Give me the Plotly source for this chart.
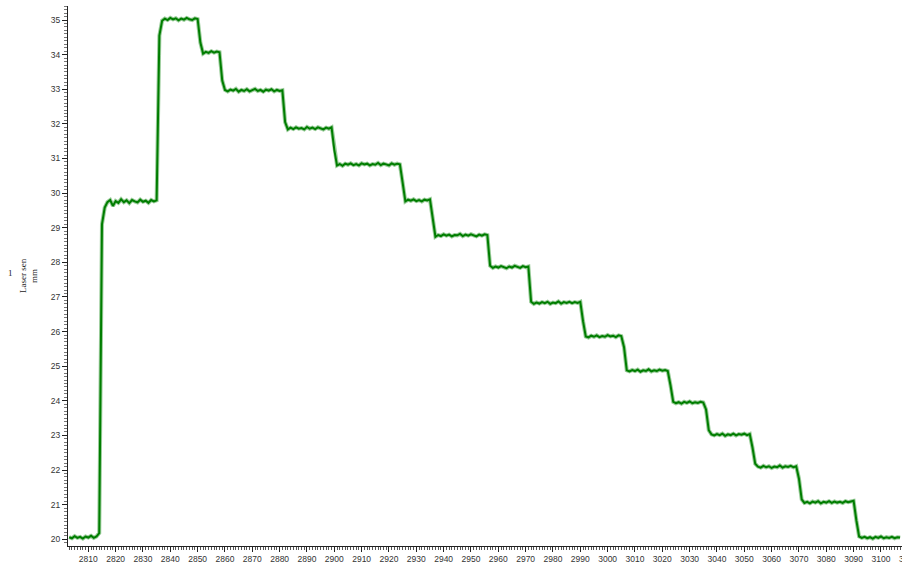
import plotly.graph_objects as go

# Laser sensor reading (mm), one sample per second from t = 2803 s
t_first = 2803
laser_mm = [
    # baseline
    20.06, 20.03, 20.09, 20.04, 20.07, 20.02, 20.08, 20.05, 20.10, 20.04, 20.08, 20.18,
    29.10,
    29.58, 29.74, 29.80, 29.63, 29.77, 29.72, 29.82, 29.74, 29.79, 29.71,
    29.80, 29.76, 29.73, 29.81, 29.75, 29.78, 29.72, 29.80, 29.76, 29.79,
    34.55,
    34.98, 35.04, 35.00, 35.06, 35.02, 35.05, 34.99, 35.04, 35.01, 35.06, 35.02, 35.00, 35.05, 35.03,
    34.35,
    34.03, 34.08, 34.05, 34.10, 34.06, 34.09, 34.07,
    33.25,
    32.98, 32.94, 32.99, 32.96, 33.01, 32.93, 32.98, 32.95, 33.00, 32.94, 32.97,
    33.01, 32.95, 32.98, 32.93, 32.99, 32.96, 33.00, 32.94, 32.98, 32.95, 32.97,
    32.05,
    31.84, 31.89, 31.85, 31.90, 31.86, 31.88, 31.84, 31.91, 31.86, 31.89, 31.85, 31.90, 31.87,
    31.84, 31.89, 31.86, 31.90,
    31.25,
    30.80, 30.84, 30.79, 30.85, 30.82, 30.86, 30.81, 30.84, 30.80, 30.86, 30.83, 30.85,
    30.80, 30.84, 30.82, 30.87, 30.81, 30.85, 30.83, 30.80, 30.86, 30.82, 30.85, 30.83,
    30.30,
    29.76, 29.81, 29.78, 29.82, 29.77, 29.80, 29.76, 29.81, 29.79, 29.82,
    29.25,
    28.74, 28.79, 28.76, 28.81, 28.77, 28.80, 28.75, 28.79, 28.78, 28.82,
    28.76, 28.80, 28.77, 28.81, 28.78, 28.75, 28.80, 28.77, 28.81, 28.79,
    27.90,
    27.84, 27.88, 27.85, 27.89, 27.86, 27.83, 27.88, 27.85, 27.90, 27.86, 27.84, 27.89, 27.86, 27.88,
    26.86,
    26.80, 26.84, 26.81, 26.85, 26.82, 26.86, 26.80, 26.84, 26.82, 26.87, 26.81, 26.85,
    26.83, 26.86, 26.82, 26.85, 26.83, 26.86,
    26.30,
    25.86, 25.83, 25.88, 25.85, 25.89, 25.84, 25.87, 25.85, 25.90, 25.86, 25.88, 25.84, 25.89, 25.87,
    25.55,
    24.88, 24.85, 24.89, 24.86, 24.90, 24.84, 24.88, 24.86, 24.91, 24.85, 24.88, 24.86,
    24.90, 24.87, 24.89, 24.86,
    24.45,
    23.97, 23.93, 23.96, 23.92, 23.97, 23.94, 23.98, 23.93, 23.96, 23.94, 23.97, 23.95,
    23.75, 23.15,
    23.03, 23.00, 23.04, 23.01, 23.05, 22.99, 23.03, 23.01, 23.05, 23.00, 23.04, 23.02, 23.05, 23.01, 23.04,
    22.65, 22.18,
    22.10, 22.07, 22.12, 22.08, 22.11, 22.06, 22.10, 22.08, 22.13, 22.07, 22.11, 22.09, 22.12, 22.08, 22.11,
    21.75, 21.15,
    21.05, 21.08, 21.04, 21.09, 21.06, 21.10, 21.04, 21.08, 21.06, 21.10, 21.05, 21.09,
    21.06, 21.08, 21.05, 21.10, 21.07, 21.09, 21.11,
    20.55,
    20.08, 20.04, 20.07, 20.03, 20.06, 20.02, 20.07, 20.04, 20.08, 20.03, 20.06, 20.04,
    20.07, 20.03, 20.06, 20.05,
]
time_s = list(range(t_first, t_first + len(laser_mm)))

x_range = [2802.57, 3107.7]
y_range = [19.806, 35.405]

tick_font = dict(family="Liberation Sans, Arial, sans-serif", size=8.5, color="#333333")
title_font = dict(family="Liberation Serif, Times New Roman, serif", size=9, color="#222222")

fig = go.Figure()
# soft envelope under the trace (sensor noise band)
fig.add_trace(go.Scatter(
    x=time_s, y=laser_mm, mode="lines",
    line=dict(color="rgba(0,128,0,0.4)", width=4),
    hoverinfo="skip",
))
# measured trace
fig.add_trace(go.Scatter(
    x=time_s, y=laser_mm, mode="lines",
    line=dict(color="#007d00", width=2),
    hoverinfo="skip",
))

fig.update_layout(
    width=902,
    height=567,
    margin=dict(l=68, r=0, t=6, b=21),
    paper_bgcolor="white",
    plot_bgcolor="white",
    showlegend=False,
    xaxis=dict(
        range=x_range,
        showgrid=False,
        zeroline=False,
        showline=True,
        linecolor="#222222",
        linewidth=1,
        ticks="outside",
        ticklen=5,
        tickcolor="#222222",
        tick0=2800,
        dtick=10,
        tickfont=tick_font,
        minor=dict(ticks="outside", ticklen=3, dtick=1, tickcolor="#555555"),
    ),
    yaxis=dict(
        range=y_range,
        showgrid=False,
        zeroline=False,
        showline=True,
        linecolor="#222222",
        linewidth=1,
        ticks="outside",
        ticklen=5,
        tickcolor="#222222",
        tick0=20,
        dtick=1,
        tickfont=tick_font,
        minor=dict(ticks="outside", ticklen=3, dtick=0.1, tickcolor="#777777"),
    ),
)

# positions below are in figure pixels, converted to paper fractions
plot_w = 902 - 68
plot_h = 567 - 6 - 21


def paper_x(px):
    return (px - 68) / plot_w


def paper_y(py):
    return (567 - 21 - py) / plot_h


# axis caption: channel number, name and unit
caption = dict(xref="paper", yref="paper", xanchor="center", yanchor="middle",
               showarrow=False, font=title_font)
fig.add_annotation(text="1", x=paper_x(10), y=paper_y(273), **caption)
fig.add_annotation(text="Laser sen", x=paper_x(23), y=paper_y(276), textangle=-90, **caption)
fig.add_annotation(text="mm", x=paper_x(34), y=paper_y(276), textangle=-90, **caption)

# next tick label, running off the right edge
px_3110 = 68 + (3110 - x_range[0]) / (x_range[1] - x_range[0]) * plot_w
fig.add_annotation(text="3110", x=paper_x(px_3110), y=0, xref="paper", yref="paper",
                   xanchor="center", yanchor="top", yshift=-6,
                   showarrow=False, font=tick_font)

fig.write_html("out.html")
